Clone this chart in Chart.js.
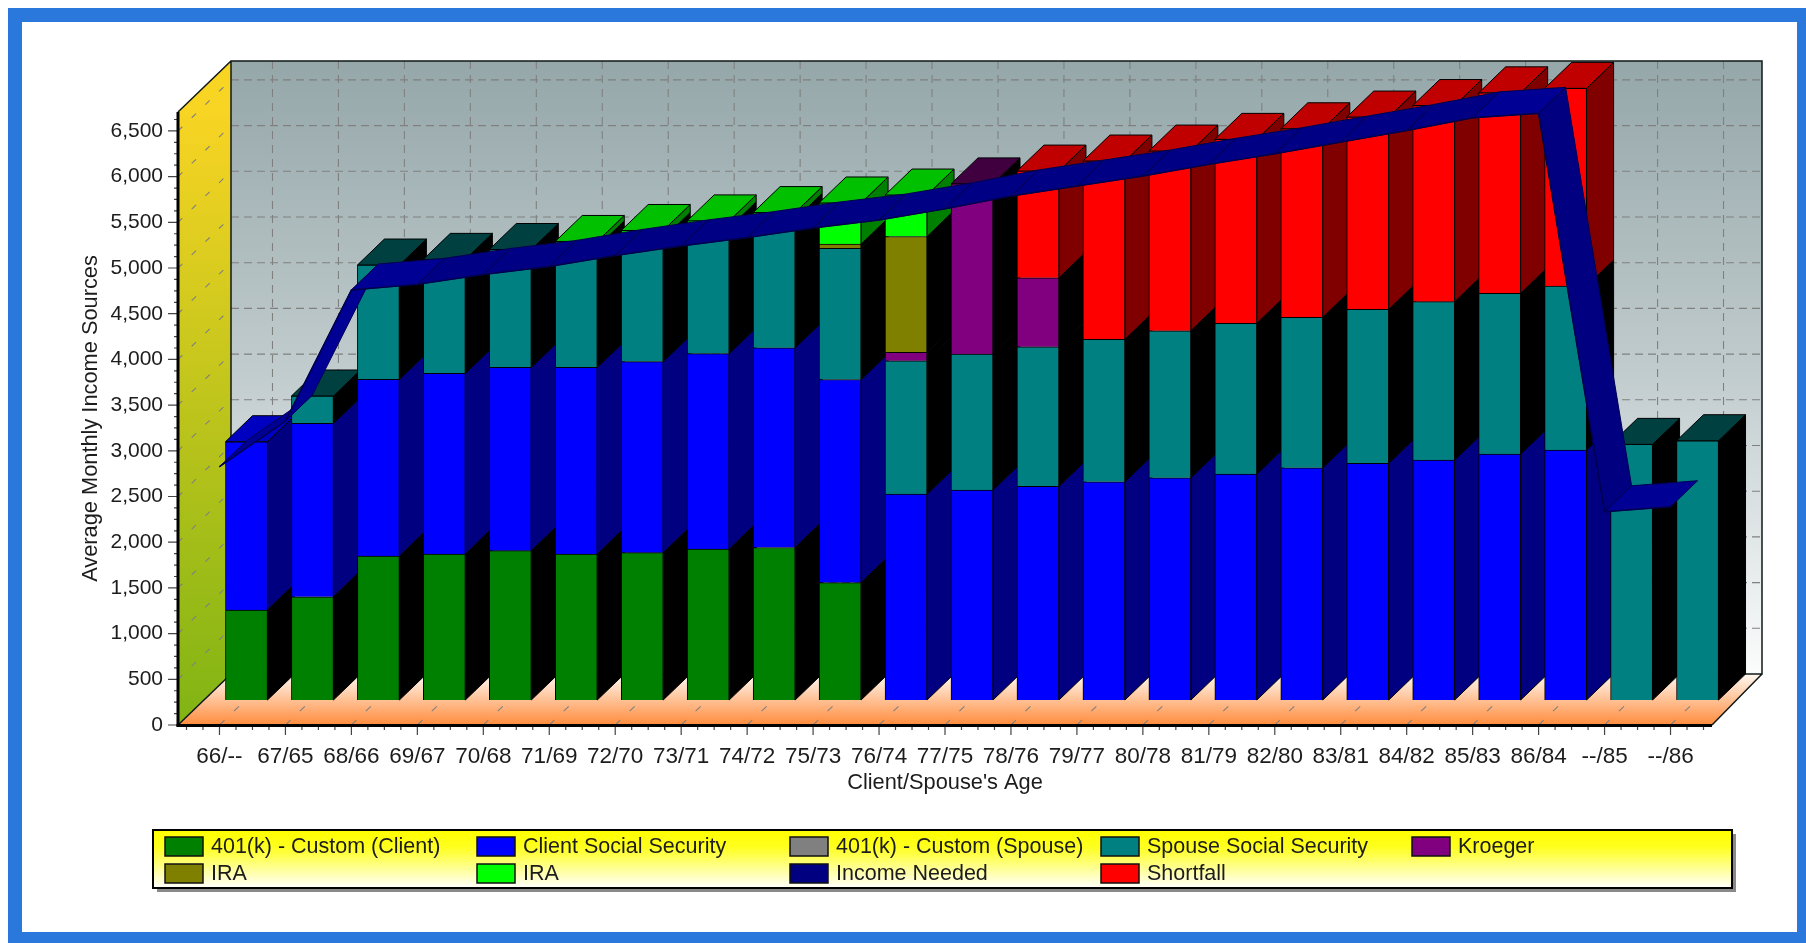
<!DOCTYPE html>
<html>
<head>
<meta charset="utf-8">
<title>Average Monthly Income Sources</title>
<style>
html, body { margin: 0; padding: 0; background: #fff; overflow: hidden; }
#frame { position: absolute; left: 8px; top: 8px; width: 1775px; height: 910px;
  border-style: solid; border-color: #2a78dc; border-width: 14px 9px 11px 14px; }
#chart { position: absolute; left: 0; top: 0; filter: blur(0.6px); }
</style>
<script src="https://cdn.jsdelivr.net/npm/chart.js@4/dist/chart.umd.js"></script>
</head>
<body>
<canvas id="chart" width="1806" height="943"></canvas>
<div id="frame"></div>
<script>
const categories = ['66/--','67/65','68/66','69/67','70/68','71/69','72/70','73/71','74/72','75/73','76/74','77/75',
    '78/76','79/77','80/78','81/79','82/80','83/81','84/82','85/83','86/84','--/85','--/86'];
const yTicks = [0,500,1000,1500,2000,2500,3000,3500,4000,4500,5000,5500,6000,6500];

const client401k = [985,1130,1575,1597,1634,1597,1612,1650,1669,1285,0,0,0,0,0,0,0,0,0,0,0,0,0];
const clientSS   = [1841,1897,1933,1977,2006,2043,2091,2140,2185,2222,2253,2298,2339,2388,2432,2472,2541,2590,2626,2691,2735,0,0];
const spouse401k = [0,0,0,0,0,0,0,0,0,0,0,0,0,0,0,0,0,0,0,0,0,0,0];
const spouseSS   = [0,299,1251,1247,1289,1318,1347,1376,1405,1436,1458,1488,1526,1558,1608,1649,1646,1684,1732,1758,1794,2797,2837];
const kroeger    = [0,0,0,0,0,0,0,0,0,0,94,1861,754,0,0,0,0,0,0,0,0,0,0];
const iraOlive   = [0,0,0,0,0,0,0,0,0,45,1266,0,0,0,0,0,0,0,0,0,0,0,0];
const iraLime    = [0,0,0,0,0,59,87,76,74,450,454,0,0,0,0,0,0,0,0,0,0,0,0];
const shortfall  = [0,0,0,0,0,0,0,0,0,0,0,0,1168,1951,1966,2013,2063,2104,2146,2194,2163,0,0];
const incomeNeeded = [2826,3326,4759,4821,4929,5017,5137,5242,5333,5438,5525,5647,5787,5897,6006,6134,6250,6378,6504,6643,6692,2333,2388];

// front, side, top colours of each series
const barSeries = [
    {label: '401(k) - Custom (Client)', data: client401k, color: '#008000', side: '#000000', top: '#006000'},
    {label: 'Client Social Security', data: clientSS, color: '#0000ff', side: '#000080', top: '#0000c0'},
    {label: '401(k) - Custom (Spouse)', data: spouse401k, color: '#808080', side: '#404040', top: '#606060'},
    {label: 'Spouse Social Security', data: spouseSS, color: '#008080', side: '#000000', top: '#004040'},
    {label: 'Kroeger', data: kroeger, color: '#800080', side: '#000000', top: '#400040'},
    {label: 'IRA', data: iraOlive, color: '#808000', side: '#000000', top: '#404000'},
    {label: 'IRA', data: iraLime, color: '#00ff00', side: '#008000', top: '#00c000'},
    {label: 'Shortfall', data: shortfall, color: '#ff0000', side: '#800000', top: '#c00000'}
];
const legendOrder = ['401(k) - Custom (Client)','Client Social Security','401(k) - Custom (Spouse)','Spouse Social Security','Kroeger',
    'IRA','IRA','Income Needed','Shortfall'];
const legendColors = ['#008000','#0000ff','#808080','#008080','#800080','#808000','#00ff00','#000080','#ff0000'];
const legendCols = [165,477,790,1101,1412];

const FONT = '"Liberation Sans", Arial, sans-serif';
const wallDx = 53, wallDy = 51;     // full depth of the box
const barDx = 27, barDy = 26;       // depth of one bar
const shiftX = 27, shiftY = -25;    // bars stand at the back half of the box
const sideInset = 8.5;              // axis runs a bit wider than the categories

function poly(ctx, pts, fill, stroke) {
    ctx.beginPath();
    pts.forEach((p, i) => i ? ctx.lineTo(p[0], p[1]) : ctx.moveTo(p[0], p[1]));
    ctx.closePath();
    if (fill) { ctx.fillStyle = fill; ctx.fill(); }
    if (stroke) { ctx.strokeStyle = stroke; ctx.lineWidth = 1; ctx.stroke(); }
}

function dashed(ctx, x1, y1, x2, y2, dash) {
    ctx.save();
    ctx.setLineDash(dash);
    ctx.strokeStyle = '#808080';
    ctx.lineWidth = 1.1;
    ctx.beginPath();
    ctx.moveTo(x1, y1);
    ctx.lineTo(x2, y2);
    ctx.stroke();
    ctx.restore();
}

function drawBox(chart) {
    const ctx = chart.ctx, xs = chart.scales.x, ys = chart.scales.y;
    const left = chart.chartArea.left - sideInset, right = chart.chartArea.right + sideInset;
    const top = chart.chartArea.top, bottom = chart.chartArea.bottom;
    const backL = left + wallDx, backR = right + wallDx - 3, backT = top - wallDy, backB = bottom - wallDy;

    let g = ctx.createLinearGradient(0, backT, 0, backB);
    g.addColorStop(0, '#95a7a9');
    g.addColorStop(0.5, '#c0cbcd');
    g.addColorStop(1, '#fbfcfc');
    ctx.fillStyle = g;
    ctx.fillRect(backL, backT, backR - backL, backB - backT);

    g = ctx.createLinearGradient(0, top, 0, bottom);
    g.addColorStop(0, '#f8d423');
    g.addColorStop(1, '#80b414');
    poly(ctx, [[left, top], [backL, backT], [backL, backB], [left, bottom]], g);

    g = ctx.createLinearGradient(0, backB, 0, bottom);
    g.addColorStop(0, '#fff8f2');
    g.addColorStop(1, '#ff8c3c');
    poly(ctx, [[left, bottom], [backL, backB], [backR, backB], [right, bottom]], g);

    // grid lines on the walls
    ys.ticks.forEach(t => {
        const y = ys.getPixelForValue(t.value);
        dashed(ctx, left, y, backL, y - wallDy, [6, 13]);
        if (t.value > 0) dashed(ctx, backL, y - wallDy, backR, y - wallDy, [8, 5]);
    });
    categories.forEach((c, i) => {
        const x = xs.getPixelForValue(i);
        dashed(ctx, x + wallDx, backT, x + wallDx, backB, [8, 6]);
        dashed(ctx, x, bottom, x + wallDx, backB, [7, 13]);
    });

    ctx.strokeStyle = '#101818';
    ctx.lineWidth = 1.5;
    ctx.beginPath();
    ctx.moveTo(left, top); ctx.lineTo(backL, backT); ctx.lineTo(backR, backT);
    ctx.lineTo(backR, backB); ctx.lineTo(backL, backB);
    ctx.moveTo(backL, backT); ctx.lineTo(backL, backB); ctx.lineTo(left, bottom);
    ctx.moveTo(backR, backB); ctx.lineTo(right, bottom);
    ctx.stroke();

    // axis lines with major and minor ticks
    ctx.strokeStyle = '#444';
    ctx.lineWidth = 1.2;
    ctx.beginPath();
    for (let v = 0; v <= ys.max; v += 125) {
        const y = ys.getPixelForValue(v);
        const len = v % 500 === 0 ? 10 : 4;
        ctx.moveTo(left - len, y); ctx.lineTo(left, y);
    }
    const step = xs.getPixelForValue(1) - xs.getPixelForValue(0);
    for (let k = -2; k <= 22 * 4 + 2; k++) {
        const x = xs.getPixelForValue(0) + k * step / 4;
        const len = k % 4 === 0 ? 10 : 5;
        ctx.moveTo(x, bottom); ctx.lineTo(x, bottom + len);
    }
    ctx.stroke();
    ctx.fillStyle = '#000';
    ctx.fillRect(left - 1.5, top, 3, bottom - top + 1.5);
    ctx.fillRect(left - 1.5, bottom - 1, right - left + 1.5, 3);
}

function drawBarFaces(chart) {
    const ctx = chart.ctx;
    ctx.save();
    ctx.translate(shiftX, shiftY);
    categories.forEach((c, i) => {
        let topSeries = -1;
        barSeries.forEach((s, k) => {
            if (s.data[i] > 0) topSeries = k;
        });
        barSeries.forEach((s, k) => {
            if (!s.data[i]) return;
            const el = chart.getDatasetMeta(k + 1).data[i];
            const l = el.x - el.width / 2, r = el.x + el.width / 2;
            poly(ctx, [[r, el.y], [r + barDx, el.y - barDy], [r + barDx, el.base - barDy], [r, el.base]], s.side, '#000');
            if (k === topSeries) {
                poly(ctx, [[l, el.y], [l + barDx, el.y - barDy], [r + barDx, el.y - barDy], [r, el.y]], s.top, '#000');
            }
        });
    });
    ctx.restore();
}

function ribbonColor(a, b) {
    const slope = (a.y - b.y) / (b.x - a.x);
    if (slope > 5) return '#000060';
    if (slope > 2) return '#00006c';
    if (slope < -1) return '#000080';
    if (Math.abs(slope) < 0.1) return '#000094';
    if (slope > 0.5) return '#000094';
    return '#000084';
}

function drawRibbon(chart, meta) {
    const ctx = chart.ctx, pts = meta.data;
    for (let i = 0; i < pts.length - 1; i++) {
        const a = pts[i], b = pts[i + 1];
        poly(ctx, [[a.x, a.y], [b.x, b.y], [b.x + barDx, b.y - barDy], [a.x + barDx, a.y - barDy]], ribbonColor(a, b), '#000050');
    }
}

function drawLegend(chart) {
    const ctx = chart.ctx;
    const x = 153, y = 830, w = 1579, h = 58;
    ctx.fillStyle = '#8a8a8a';
    ctx.fillRect(x + 4, y + 4, w, h);
    const g = ctx.createLinearGradient(0, y, 0, y + h);
    g.addColorStop(0, '#ffff00');
    g.addColorStop(0.3, '#ffff20');
    g.addColorStop(1, '#ffffff');
    ctx.fillStyle = g;
    ctx.fillRect(x, y, w, h);
    ctx.strokeStyle = '#000';
    ctx.lineWidth = 2;
    ctx.strokeRect(x, y, w, h);

    ctx.font = '21.5px ' + FONT;
    ctx.textBaseline = 'middle';
    ctx.textAlign = 'left';
    legendOrder.forEach((name, i) => {
        const col = i % 5, row = Math.floor(i / 5);
        const sx = legendCols[col], sy = 837 + row * 27;
        ctx.fillStyle = legendColors[i];
        ctx.fillRect(sx, sy, 38, 19);
        ctx.strokeStyle = '#111';
        ctx.lineWidth = 1.5;
        ctx.strokeRect(sx, sy, 38, 19);
        ctx.fillStyle = '#1c1c1c';
        ctx.fillText(name, sx + 46, sy + 10);
    });
}

const box3d = {
    id: 'box3d',
    beforeDatasetsDraw(chart) {
        drawBox(chart);
        drawBarFaces(chart);
    },
    beforeDatasetDraw(chart, args) {
        if (args.meta.type === 'bar') {
            chart.ctx.save();
            chart.ctx.translate(shiftX, shiftY);
        } else {
            drawRibbon(chart, args.meta);
        }
    },
    afterDatasetDraw(chart, args) {
        if (args.meta.type === 'bar') chart.ctx.restore();
    },
    afterDraw(chart) {
        drawLegend(chart);
    }
};

const datasets = [{
    type: 'line',
    label: 'Income Needed',
    data: incomeNeeded,
    borderColor: '#000050',
    borderWidth: 1.5,
    pointRadius: 0,
    tension: 0,
    clip: false,
    order: -1
}].concat(barSeries.map(s => ({
    type: 'bar',
    label: s.label,
    data: s.data.map(v => v || null),
    backgroundColor: s.color,
    borderColor: '#000',
    borderWidth: 1,
    barThickness: 42,
    clip: false
})));

Chart.defaults.font.family = FONT;
Chart.defaults.color = '#1c1c1c';

new Chart(document.getElementById('chart').getContext('2d'), {
    type: 'bar',
    data: {labels: categories, datasets: datasets},
    plugins: [box3d],
    options: {
        responsive: false,
        animation: false,
        layout: {padding: {left: 0, top: 112, right: 102.5, bottom: 0}},
        plugins: {legend: {display: false}, tooltip: {enabled: false}},
        scales: {
            x: {
                stacked: true,
                offset: true,
                grid: {display: false, drawTicks: false},
                border: {display: false},
                ticks: {autoSkip: false, maxRotation: 0, padding: 18, font: {size: 22.5}},
                title: {display: true, text: "Client/Spouse's Age", font: {size: 21.8}, padding: {top: 0, bottom: 147}},
                afterFit(scale) { scale.height = 218; }
            },
            y: {
                stacked: true,
                min: 0,
                max: 6707,
                grid: {display: false, drawTicks: false},
                border: {display: false},
                afterBuildTicks(scale) { scale.ticks = yTicks.map(v => ({value: v})); },
                ticks: {
                    padding: 23.5,
                    font: {size: 21},
                    callback: v => v.toLocaleString('en-US')
                },
                title: {display: true, text: 'Average Monthly Income Sources', font: {size: 21.8}, padding: {top: 78, bottom: 0}},
                afterFit(scale) { scale.width = 186.5; }
            }
        }
    }
});
</script>
</body>
</html>
